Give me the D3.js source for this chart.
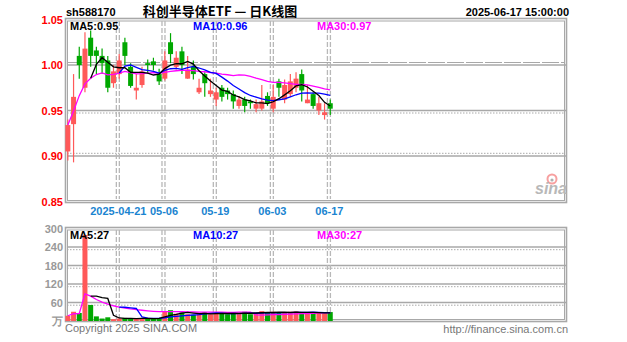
<!DOCTYPE html>
<html><head><meta charset="utf-8">
<script src="https://cdn.jsdelivr.net/npm/d3@7/dist/d3.min.js"></script>
<style>
html,body{margin:0;padding:0;background:#fff;}
svg{display:block;}
text{font-family:"Liberation Sans",Arial,sans-serif;}
</style></head>
<body>
<svg id="c" width="627" height="342"></svg>
<script>
// ---------------- data ----------------
const dates = ["2025-04-08","2025-04-09","2025-04-10","2025-04-11","2025-04-14","2025-04-15","2025-04-16","2025-04-17","2025-04-18",
"2025-04-21","2025-04-22","2025-04-23","2025-04-24","2025-04-25","2025-04-28","2025-04-29","2025-04-30",
"2025-05-06","2025-05-07","2025-05-08","2025-05-09","2025-05-12","2025-05-13","2025-05-14","2025-05-15","2025-05-16",
"2025-05-19","2025-05-20","2025-05-21","2025-05-22","2025-05-23","2025-05-26","2025-05-27","2025-05-28","2025-05-29","2025-05-30",
"2025-06-03","2025-06-04","2025-06-05","2025-06-06","2025-06-09","2025-06-10","2025-06-11","2025-06-12","2025-06-13","2025-06-16","2025-06-17"];
const opens  = [0.905,0.935,1.010,0.975,1.030,1.016,1.010,1.005,0.980,0.990,1.025,0.998,0.972,0.978,1.002,1.004,0.990,
0.985,1.025,0.998,1.015,0.985,0.998,0.970,0.990,0.968,0.962,0.975,0.972,0.968,0.955,0.962,0.960,0.952,0.952,0.966,
0.952,0.982,0.962,0.968,0.975,0.990,0.958,0.968,0.950,0.945,0.958];
const highs  = [0.940,0.990,1.020,1.036,1.038,1.020,1.018,1.010,1.000,1.012,1.030,1.002,0.990,0.998,1.006,1.008,0.996,
1.015,1.035,1.015,1.020,1.010,1.005,0.985,0.992,0.985,0.975,0.978,0.975,0.972,0.966,0.965,0.962,0.962,0.978,0.970,
0.978,0.985,0.984,0.990,0.992,0.995,0.978,0.970,0.965,0.958,0.962];
const lows   = [0.895,0.893,0.985,0.970,0.998,0.990,0.990,0.970,0.975,0.985,1.000,0.975,0.962,0.975,0.990,0.994,0.978,
0.983,1.002,0.995,0.990,0.985,0.984,0.968,0.965,0.965,0.955,0.960,0.962,0.952,0.952,0.948,0.952,0.948,0.950,0.955,
0.948,0.965,0.958,0.965,0.970,0.960,0.958,0.952,0.945,0.940,0.945];
const closes = [0.934,0.965,1.000,1.018,1.010,1.010,1.002,0.975,0.993,1.005,1.010,0.977,0.975,0.993,1.000,1.000,0.982,
1.005,1.012,1.008,1.000,0.995,0.990,0.975,0.980,0.972,0.970,0.965,0.968,0.960,0.962,0.955,0.958,0.957,0.960,0.958,
0.965,0.975,0.978,0.982,0.985,0.972,0.962,0.955,0.958,0.948,0.952];
const volumes = [17,30,26,279,52,15,8,12,6,8,10,8,8,9,7,8,9,
32,35,24,28,22,20,25,28,22,26,24,22,28,24,30,22,26,32,28,
30,26,26,30,31,27,25,28,26,25,29];

const priceTicks = [1.05,1.00,0.95,0.90,0.85];
const volTicks = [300,240,180,120,60];
const volUnitLabel = "万";
const dateTicks = ["2025-04-21","2025-05-06","2025-05-19","2025-06-03","2025-06-17"];
const dateTickLabels = ["2025-04-21","05-06","05-19","06-03","06-17"];
const priceMALabels = ["MA5:0.95","MA10:0.96","MA30:0.97"];
const volMALabels = ["MA5:27","MA10:27","MA30:27"];
const symbol = "sh588170";
const title = "科创半导体ETF — 日K线图";
const stamp = "2025-06-17 15:00:00";

// ---------------- drawing ----------------
const svg = d3.select("#c");
const RED = "#ff5959", GREEN = "#00a800", GRID = "#a8a8a8";
const maColors = ["#000000","#0000ff","#ff00ff"];

const x = d3.scaleLinear().domain([0, 88]).range([65, 567]);
const yP = d3.scaleLinear().domain([0.85, 1.05]).range([201.5, 19.5]);
const yV = d3.scaleLinear().domain([0, 300]).range([321, 228.5]);
const cx = i => x(i + 0.5);
const BW = 5;

function ma(arr, n, partial) {
  return arr.map((v, i) => {
    if (i < n - 1 && !partial) return null;
    const s = arr.slice(Math.max(0, i - n + 1), i + 1);
    return d3.mean(s);
  });
}

function panel(y0, y1) {
  const g = svg.append("g");
  g.append("rect").attr("x",65.5).attr("y",y0).attr("width",501).attr("height",y1-y0)
    .attr("fill","none").attr("stroke",GRID).attr("stroke-width",1.6);
  g.append("rect").attr("x",67.5).attr("y",y0+2.5).attr("width",497).attr("height",y1-y0-4.5)
    .attr("fill","none").attr("stroke",GRID).attr("stroke-width",1);
  return g;
}

panel(18.5, 202.5);
panel(227.5, 321.5);

// horizontal grids price
[1.00,0.95,0.90].forEach((p,k) => {
  const yy = yP(p);
  const off = k === 0 ? -2.5 : (k === 1 ? 2.5 : -2.7);
  svg.append("line").attr("x1",67).attr("x2",567).attr("y1",yy).attr("y2",yy)
    .attr("stroke",GRID).attr("stroke-width",1.4);
  svg.append("line").attr("x1",67).attr("x2",565).attr("y1",yy+off).attr("y2",yy+off)
    .attr("stroke",GRID).attr("stroke-width",1).attr("stroke-dasharray", k===0 ? "17,2" : "1.5,1.5");
});
// horizontal grids volume
volTicks.slice(1).forEach(v => {
  const yy = yV(v);
  svg.append("line").attr("x1",67).attr("x2",567).attr("y1",yy).attr("y2",yy)
    .attr("stroke",GRID).attr("stroke-width",1.4);
  svg.append("line").attr("x1",67).attr("x2",565).attr("y1",yy+2.7).attr("y2",yy+2.7)
    .attr("stroke",GRID).attr("stroke-width",1).attr("stroke-dasharray","1.5,1.5");
});

// vertical grids
const tickIdx = dateTicks.map(d => dates.indexOf(d));
tickIdx.forEach(i => {
  const xx = x(i);
  [[21,199],[230,320]].forEach(([a,b]) => {
    [0,3].forEach(o => svg.append("line").attr("x1",xx+o).attr("x2",xx+o).attr("y1",a).attr("y2",b)
      .attr("stroke","#b8b8b8").attr("stroke-width",1.3).attr("stroke-dasharray","5,2"));
  });
});

// sina logo
const logo = svg.append("g");
logo.append("circle").attr("cx",552).attr("cy",179).attr("r",4.5).attr("fill","none").attr("stroke","#f7a0a0").attr("stroke-width",2);
logo.append("circle").attr("cx",552).attr("cy",180).attr("r",1.6).attr("fill","#b0b0b0");
logo.append("text").attr("x",567).attr("y",194).attr("text-anchor","end")
  .style("font-size","16px").style("font-weight","bold").style("font-style","italic")
  .attr("fill","#b8b8b8").text("sina");

// candles
const cg = svg.append("g");
dates.forEach((d,i) => {
  const up = closes[i] >= opens[i];
  const col = up ? RED : GREEN;
  cg.append("line").attr("x1",cx(i)).attr("x2",cx(i)).attr("y1",yP(highs[i])).attr("y2",yP(lows[i]))
    .attr("stroke",col).attr("stroke-width",1.2);
  const top = yP(Math.max(opens[i],closes[i])), bot = yP(Math.min(opens[i],closes[i]));
  cg.append("rect").attr("x",cx(i)-BW/2).attr("y",top).attr("width",BW).attr("height",Math.max(1.2,bot-top))
    .attr("fill",col);
});

// price MAs
const pMA = [ma(closes,5,false), ma(closes,10,false), ma(closes,30,true)];
const lineP = d3.line().defined(v => v != null).x((v,i) => cx(i)).y(v => yP(v));
[2,1,0].forEach(k => svg.append("path").attr("d", lineP(pMA[k])).attr("fill","none")
  .attr("stroke", maColors[k]).attr("stroke-width",1.3));

// volume bars
const vg = svg.append("g");
dates.forEach((d,i) => {
  const up = closes[i] >= opens[i];
  vg.append("rect").attr("x",cx(i)-BW/2).attr("y",yV(volumes[i])).attr("width",BW)
    .attr("height",yV(0)-yV(volumes[i])).attr("fill", up ? RED : GREEN);
});
const vMA = [ma(volumes,5,false), ma(volumes,10,false), ma(volumes,30,true)];
const lineV = d3.line().defined(v => v != null).x((v,i) => cx(i)).y(v => yV(v));
[2,1,0].forEach(k => svg.append("path").attr("d", lineV(vMA[k])).attr("fill","none")
  .attr("stroke", maColors[k]).attr("stroke-width",1.3));

// axes
const axP = svg.append("g").attr("transform","translate(65,0)")
  .call(d3.axisLeft(yP).tickValues(priceTicks).tickFormat(d3.format(".2f")).tickSize(0).tickPadding(2));
axP.select(".domain").remove();
axP.selectAll("text").attr("fill","#ff0000").style("font-size","11px").style("font-weight","bold");

const axV = svg.append("g").attr("transform","translate(65,0)")
  .call(d3.axisLeft(yV).tickValues(volTicks.concat([0])).tickFormat(d => d === 0 ? volUnitLabel : d).tickSize(0).tickPadding(2));
axV.select(".domain").remove();
axV.selectAll("text").attr("fill","#999").style("font-size","11px").style("font-weight","bold");

const axD = svg.append("g").attr("transform","translate(1.5,205)")
  .call(d3.axisBottom(x).tickValues(tickIdx).tickFormat((d,i) => dateTickLabels[i]).tickSize(0).tickPadding(2));
axD.select(".domain").remove();
axD.selectAll("text").attr("fill","#1a84d0").style("font-size","11px").style("font-weight","bold");

// header texts
svg.append("text").attr("x",66).attr("y",16).style("font-size","11px").style("font-weight","bold").attr("fill","#000").text(symbol);
svg.append("text").attr("x",220).attr("y",16).attr("text-anchor","middle")
  .style("font-family","'Noto Sans CJK SC',sans-serif").style("font-size","13px").style("font-weight","bold").attr("fill","#000").text(title);
svg.append("text").attr("x",569).attr("y",16).attr("text-anchor","end").style("font-size","11px").style("font-weight","bold").attr("fill","#000").text(stamp);

const maX = [70, 193, 317];
priceMALabels.forEach((t,k) => svg.append("text").attr("x",maX[k]).attr("y",30).style("font-size","11px")
  .style("font-weight","bold").attr("fill",maColors[k]).text(t));
volMALabels.forEach((t,k) => svg.append("text").attr("x",maX[k]).attr("y",239).style("font-size","11px")
  .style("font-weight","bold").attr("fill",maColors[k]).text(t));

svg.append("text").attr("x",65).attr("y",332).style("font-size","11px").attr("fill","#777").text("Copyright 2025 SINA.COM");
svg.append("text").attr("x",568).attr("y",333).attr("text-anchor","end").style("font-size","11px").attr("fill","#777").text("http://finance.sina.com.cn");
</script>
</body></html>
